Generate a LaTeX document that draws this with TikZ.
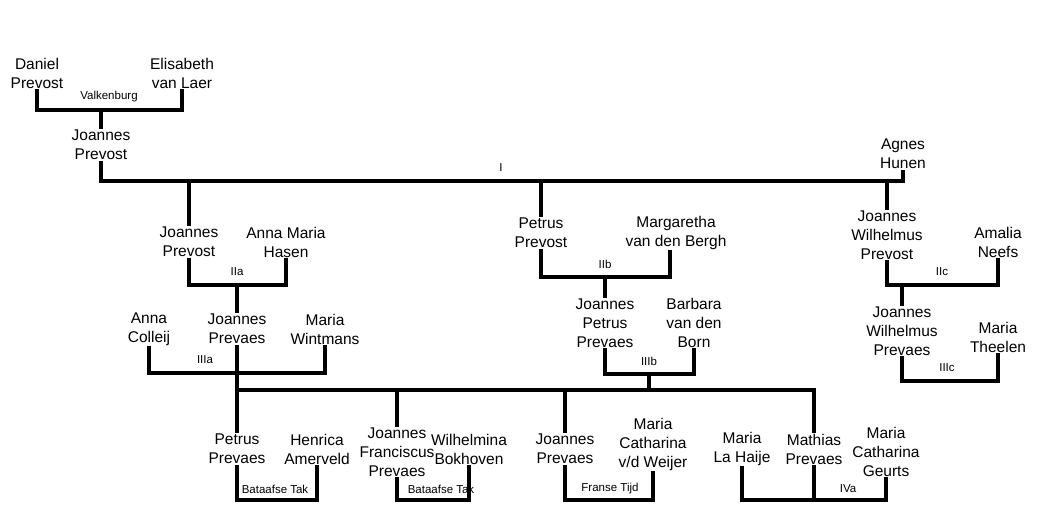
\documentclass[tikz,border=0pt]{standalone}
\usepackage{fontspec}
\setmainfont{Liberation Sans}
\usetikzlibrary{positioning}
\begin{document}
\begin{tikzpicture}[x=1pt,y=-1pt]
  \tikzstyle{person}=[align=center, inner sep=0.5pt, font=\fontsize{15.5}{19}\selectfont]
  \tikzstyle{tag}=[inner sep=0pt, font=\fontsize{11.5}{12}\selectfont]
  \tikzstyle{line}=[draw, line width=3.2pt]
  \useasboundingbox (0,0) rectangle (1046,513);

  % generation 0 and I
  \node [person] (daniel) at (37,73) {Daniel\\Prevost};
  \node [person] (elisabeth) at (182,73) {Elisabeth\\van Laer};
  \node [tag] (valk) at (109,97) {Valkenburg};
  \node [person] (joannes1) at (101,145) {Joannes\\Prevost};
  \node [person] (agnes) at (903,154) {Agnes\\Hunen};
  \node [tag] (tI) at (501,168) {I};

  % generation II
  \node [person] (joannes2) at (189,242) {Joannes\\Prevost};
  \node [person] (annamaria) at (286,242) {Anna Maria\\Hasen};
  \node [tag] (tIIa) at (237,272) {IIa};
  \node [person] (petrus2) at (541,233) {Petrus\\Prevost};
  \node [person] (margaretha) at (676,233) {Margaretha\\van den Bergh};
  \node [tag] (tIIb) at (605,264) {IIb};
  \node [person] (jwprevost) at (887,235) {Joannes\\Wilhelmus\\Prevost};
  \node [person] (amalia) at (998,242) {Amalia\\Neefs};
  \node [tag] (tIIc) at (942,272) {IIc};

  % generation III
  \node [person] (anna) at (149,329) {Anna\\Colleij};
  \node [person] (joannes3) at (237,329) {Joannes\\Prevaes};
  \node [person] (mariaw) at (325,329) {Maria\\Wintmans};
  \node [tag] (tIIIa) at (205,360) {IIIa};
  \node [person] (jpp) at (605,323) {Joannes\\Petrus\\Prevaes};
  \node [person] (barbara) at (694,323) {Barbara\\van den\\Born};
  \node [tag] (tIIIb) at (649,361) {IIIb};
  \node [person] (jwprevaes) at (902,331) {Joannes\\Wilhelmus\\Prevaes};
  \node [person] (mariat) at (998,337) {Maria\\Theelen};
  \node [tag] (tIIIc) at (947,368) {IIIc};

  % generation IV
  \node [person] (petrus4) at (237,449) {Petrus\\Prevaes};
  \node [person] (henrica) at (317,449) {Henrica\\Amerveld};
  \node [tag] (bt1) at (275,489) {Bataafse Tak};
  \node [person] (jfp) at (397,452) {Joannes\\Franciscus\\Prevaes};
  \node [person] (wilhelmina) at (469,449) {Wilhelmina\\Bokhoven};
  \node [tag] (bt2) at (441,489) {Bataafse Tak};
  \node [person] (joannes4) at (565,449) {Joannes\\Prevaes};
  \node [person] (mcw) at (653,444) {Maria\\Catharina\\v/d Weijer};
  \node [tag] (ft) at (610,489) {Franse Tijd};
  \node [person] (marial) at (742,449) {Maria\\La Haije};
  \node [person] (mathias) at (814,449) {Mathias\\Prevaes};
  \node [person] (mcg) at (886,452) {Maria\\Catharina\\Geurts};
  \node [tag] (tIVa) at (848,489) {IVa};

  % couples
  \draw [line] (daniel.south) -- (daniel.south |- 0,110) -| (elisabeth.south);
  \draw [line] (joannes1.north |- 0,110) -- (joannes1.north);
  \draw [line] (joannes1.south) -- (joannes1.south |- 0,181) -| (agnes.south);
  \draw [line] (joannes2.north |- 0,181) -- (joannes2.north);
  \draw [line] (petrus2.north |- 0,181) -- (petrus2.north);
  \draw [line] (jwprevost.north |- 0,181) -- (jwprevost.north);

  \draw [line] (joannes2.south) -- (joannes2.south |- 0,285) -| (annamaria.south);
  \draw [line] (joannes3.north |- 0,285) -- (joannes3.north);
  \draw [line] (petrus2.south) -- (petrus2.south |- 0,277) -| (margaretha.south -| 670,0);
  \draw [line] (jpp.north |- 0,277) -- (jpp.north);
  \draw [line] (jwprevost.south) -- (jwprevost.south |- 0,285) -| (amalia.south);
  \draw [line] (jwprevaes.north |- 0,285) -- (jwprevaes.north);

  \draw [line] (anna.south) -- (anna.south |- 0,373) -| (mariaw.south);
  \draw [line] (joannes3.south) -- (joannes3.south |- 0,390);
  \draw [line] (jpp.south) -- (jpp.south |- 0,374) -| (barbara.south);
  \draw [line] (tIIIb.south |- 0,374) -- (tIIIb.south |- 0,390);
  \draw [line] (jwprevaes.south) -- (jwprevaes.south |- 0,381) -| (mariat.south);

  % children of IIIa and IIIb
  \draw [line] (petrus4.north) -- (petrus4.north |- 0,390) -| (mathias.north);
  \draw [line] (jfp.north |- 0,390) -- (jfp.north);
  \draw [line] (joannes4.north |- 0,390) -- (joannes4.north);

  \draw [line] (petrus4.south) -- (petrus4.south |- 0,500) -| (henrica.south);
  \draw [line] (jfp.south) -- (jfp.south |- 0,500) -| (wilhelmina.south);
  \draw [line] (joannes4.south) -- (joannes4.south |- 0,500) -| (mcw.south);
  \draw [line] (marial.south) -- (marial.south |- 0,500) -| (mcg.south);
  \draw [line] (mathias.south) -- (mathias.south |- 0,500);
\end{tikzpicture}
\end{document}
